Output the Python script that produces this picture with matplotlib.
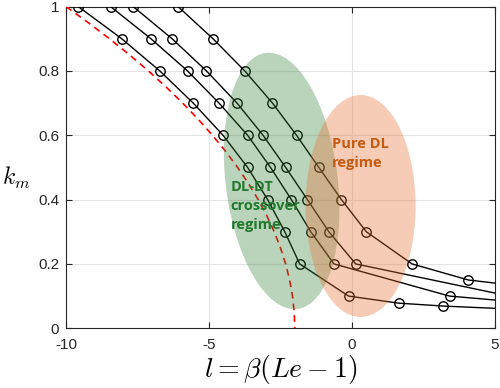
import matplotlib
matplotlib.use("Agg")
import matplotlib.pyplot as plt
import matplotlib.transforms as mtransforms
from matplotlib.patches import Ellipse

# k_m levels shared by the simulation series
km_levels = [1.0, 0.9, 0.8, 0.7, 0.6, 0.5, 0.4, 0.3, 0.2, 0.1]

# l values for each series (last points run past the axis edge)
l_s1 = [-9.57, -8.05, -6.72, -5.55, -4.51, -3.65, -2.95, -2.35, -1.83, -0.12, 1.63, 3.19, 6.0]
k_s1 = km_levels + [0.078, 0.069, 0.058]
l_s2 = [-8.44, -7.03, -5.75, -4.65, -3.65, -2.85, -2.12, -1.44, -0.63, 3.41, 6.0]
k_s2 = km_levels + [0.08]
l_s3 = [-7.65, -6.29, -5.09, -4.02, -3.11, -2.32, -1.56, -0.81, 0.13, 5.5]
k_s3 = km_levels[:9] + [0.1]
l_s4 = [-6.08, -4.86, -3.75, -2.78, -1.94, -1.16, -0.37, 0.50, 2.10, 4.07, 6.0]
k_s4 = km_levels[:9] + [0.15, 0.13]

series = [(l_s1, k_s1), (l_s2, k_s2), (l_s3, k_s3), (l_s4, k_s4)]

# red dashed boundary curve
k_red = [1.0, 0.95, 0.9, 0.85, 0.8, 0.75, 0.7, 0.65, 0.6, 0.55, 0.5,
         0.45, 0.4, 0.35, 0.3, 0.25, 0.2, 0.15, 0.1, 0.05, 0.0]
l_red = [-10.0, -9.22, -8.48, -7.78, -7.12, -6.50, -5.92, -5.38, -4.88, -4.42, -4.0,
         -3.62, -3.28, -2.98, -2.72, -2.50, -2.32, -2.18, -2.08, -2.02, -2.0]

x_ticks = [-10, -5, 0, 5]
y_ticks = [0, 0.2, 0.4, 0.6, 0.8, 1]
y_ticklabels = ["0", "0.2", "0.4", "0.6", "0.8", "1"]

plt.rcParams["font.family"] = ["Liberation Sans", "DejaVu Sans"]
plt.rcParams["mathtext.fontset"] = "cm"

fig = plt.figure(figsize=(5.0, 3.88), dpi=100)
ax = fig.add_axes([0.132, 0.154, 0.858, 0.829])

for l_vals, k_vals in series:
    ax.plot(l_vals, k_vals, color="black", lw=1.0, marker="o", ms=6.8,
            mfc="none", mec="black", mew=1.0, zorder=3)

ax.plot(l_red, k_red, color="red", lw=1.2, ls=(0, (4, 3)), zorder=3)

# shaded regime ellipses (sizes in inches, centred in data coordinates)
def add_ellipse(cx, cy, w_in, h_in, angle, color, alpha):
    trans = fig.dpi_scale_trans + mtransforms.ScaledTranslation(cx, cy, ax.transData)
    e = Ellipse((0, 0), w_in, h_in, angle=angle, transform=trans,
                facecolor=color, edgecolor="none", alpha=alpha, zorder=4)
    ax.add_patch(e)

add_ellipse(-2.46, 0.458, 1.12, 2.58, 7, "#2e7d32", 0.33)
add_ellipse(0.30, 0.38, 1.10, 2.22, 0, "#e86e32", 0.35)

ax.text(-4.25, 0.462, "DL-DT\ncrossover\nregime", color="#217a2c", fontsize=10.5,
        fontweight="bold", family="Open Sans", va="top", ha="left",
        linespacing=1.45, zorder=5)
ax.text(-0.7, 0.595, "Pure DL\nregime", color="#c55a11", fontsize=10.5,
        fontweight="bold", family="Open Sans", va="top", ha="left",
        linespacing=1.45, zorder=5)

ax.set_xlim(-10, 5)
ax.set_ylim(0, 1)
ax.set_xticks(x_ticks)
ax.set_xticklabels([str(t) for t in x_ticks])
ax.set_yticks(y_ticks)
ax.set_yticklabels(y_ticklabels)
ax.grid(True, color="#e3e3e3", lw=0.8, zorder=0)
ax.set_axisbelow(True)
ax.tick_params(direction="in", top=True, right=True, length=4, width=0.8,
               labelsize=11, colors="#262626")
ax.tick_params(axis="x", pad=7)
ax.tick_params(axis="y", pad=5)
for sp in ax.spines.values():
    sp.set_color("#262626")
    sp.set_linewidth(0.8)

ax.set_xlabel(r"$l = \beta(Le-1)$", fontsize=20, labelpad=1)
ax.set_ylabel(r"$k_m$", fontsize=17, rotation=0, va="center", ha="center")
ax.yaxis.set_label_coords(-0.117, 0.467)

fig.savefig("out.png", dpi=100)
